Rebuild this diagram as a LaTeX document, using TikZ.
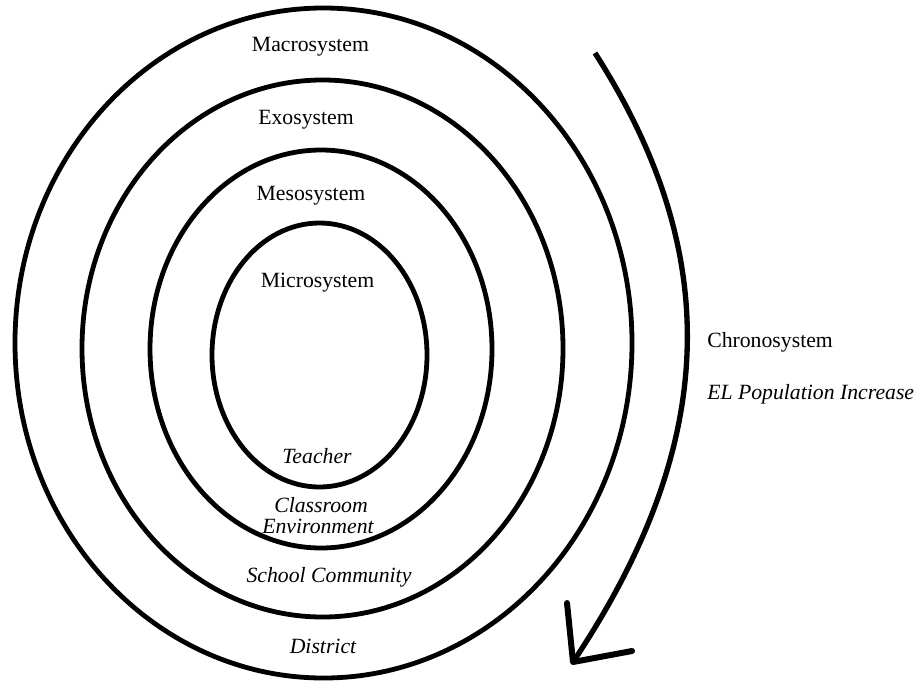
\documentclass[tikz,border=0pt]{standalone}
\usepackage{fontspec}
\setmainfont{Liberation Serif}
\begin{document}
\begin{tikzpicture}[x=0.75pt,y=-0.75pt,
  ring/.style={line width=3.6pt},
  lab/.style={anchor=base,inner sep=0pt,font=\fontsize{16.3}{15.5}\selectfont},
  itlab/.style={lab,font=\fontsize{16.3}{15.5}\selectfont\itshape}]
\useasboundingbox (0,0) rectangle (920,683);
\draw[ring] (323.5,343) ellipse [x radius=308.5,y radius=335];
\draw[ring] (322.5,348.5) ellipse [x radius=240.5,y radius=268.5];
\draw[ring] (321,349) ellipse [x radius=171,y radius=199];
\draw[ring] (319.5,355) ellipse [x radius=107.5,y radius=132];
\node[lab] (macro) at (310.5,51) {Macrosystem};
\node[lab] (exo) at (306,124) {Exosystem};
\node[lab] (meso) at (311,200) {Mesosystem};
\node[lab] (micro) at (317.5,287) {Microsystem};
\node[itlab] (teacher) at (317,463) {Teacher};
\node[itlab] (classroom) at (321,512) {Classroom};
\node[itlab] (environment) at (318,533) {Environment};
\node[itlab] (school) at (329,582) {School Community};
\node[itlab] (district) at (323,653) {District};
\node[lab,anchor=base west] (chrono) at (707,347) {Chronosystem};
\node[itlab,anchor=base west] (elpop) at (707,399) {EL Population Increase};
% time arrow
\coordinate (tstart) at (595,53);
\coordinate (ttip) at (573,662);
\draw[line width=4pt] (tstart) .. controls (723,253) and (720,442) .. (ttip);
\draw[line width=4.5pt,line cap=round,line join=round] (567,603) -- (ttip) -- (632,651);
\end{tikzpicture}
\end{document}
